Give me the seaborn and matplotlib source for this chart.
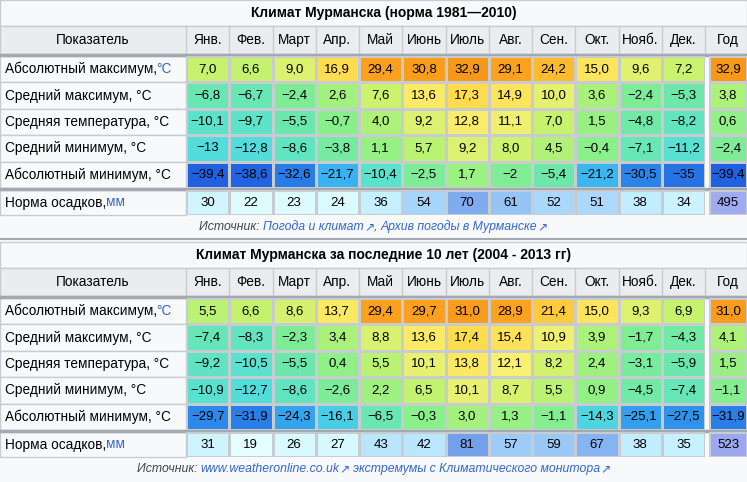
import numpy as np
import matplotlib
matplotlib.use("Agg")
import matplotlib.pyplot as plt
from matplotlib.colors import LinearSegmentedColormap
from matplotlib.patches import Rectangle
import seaborn as sns

months = ["Янв.", "Фев.", "Март", "Апр.", "Май", "Июнь", "Июль", "Авг.", "Сен.", "Окт.", "Нояб.", "Дек."]
row_labels = ["Абсолютный максимум, ", "Средний максимум, °C", "Средняя температура, °C",
              "Средний минимум, °C", "Абсолютный минимум, °C"]

t1_abs_max = ["7,0","6,6","9,0","16,9","29,4","30,8","32,9","29,1","24,2","15,0","9,6","7,2","32,9"]
t1_avg_max = ["−6,8","−6,7","−2,4","2,6","7,6","13,6","17,3","14,9","10,0","3,6","−2,4","−5,3","3,8"]
t1_mean    = ["−10,1","−9,7","−5,5","−0,7","4,0","9,2","12,8","11,1","7,0","1,5","−4,8","−8,2","0,6"]
t1_avg_min = ["−13","−12,8","−8,6","−3,8","1,1","5,7","9,2","8,0","4,5","−0,4","−7,1","−11,2","−2,4"]
t1_abs_min = ["−39,4","−38,6","−32,6","−21,7","−10,4","−2,5","1,7","−2","−5,4","−21,2","−30,5","−35","−39,4"]
t1_precip  = [30, 22, 23, 24, 36, 54, 70, 61, 52, 51, 38, 34, 495]

t2_abs_max = ["5,5","6,6","8,6","13,7","29,4","29,7","31,0","28,9","21,4","15,0","9,3","6,9","31,0"]
t2_avg_max = ["−7,4","−8,3","−2,3","3,4","8,8","13,6","17,4","15,4","10,9","3,9","−1,7","−4,3","4,1"]
t2_mean    = ["−9,2","−10,5","−5,5","0,4","5,5","10,1","13,8","12,1","8,2","2,4","−3,1","−5,9","1,5"]
t2_avg_min = ["−10,9","−12,7","−8,6","−2,6","2,2","6,5","10,1","8,7","5,5","0,9","−4,5","−7,4","−1,1"]
t2_abs_min = ["−29,7","−31,9","−24,3","−16,1","−6,5","−0,3","3,0","1,3","−1,1","−14,3","−25,1","−27,5","−31,9"]
t2_precip  = [31, 19, 26, 27, 43, 42, 81, 57, 59, 67, 38, 35, 523]

title1 = "Климат Мурманска (норма 1981—2010)"
title2 = "Климат Мурманска за последние 10 лет (2004 - 2013 гг)"
ICON = "\u2197"
src1 = [("Источник: ", "#444444"), ("Погода и климат", "#3366cc"), (ICON, "#3366cc"), (", ", "#444444"),
        ("Архив погоды в Мурманске", "#3366cc"), (ICON, "#3366cc")]
src2 = [("Источник: ", "#444444"), ("www.weatheronline.co.uk", "#3366cc"), (ICON, "#3366cc"), (" ", "#444444"),
        ("экстремумы с Климатического монитора", "#3366cc"), (ICON, "#3366cc")]

plt.rcParams["font.family"] = ["Liberation Sans", "DejaVu Sans"]
W, H = 747, 482
fig = plt.figure(figsize=(W / 100, H / 100), dpi=100)
fig.patch.set_facecolor("#f8f9fa")
main = fig.add_axes([0, 0, 1, 1])
main.set_xlim(0, W); main.set_ylim(H, 0); main.axis("off")

tcmap = LinearSegmentedColormap.from_list("t", [
    (0.00, "#1f5fe0"), (10/75, "#2b86ea"), (20/75, "#3cbcf2"), (28/75, "#55e0d8"),
    (35/75, "#6ee8a8"), (40/75, "#8cf088"), (47/75, "#c6f26e"), (52/75, "#f8f070"),
    (57/75, "#ffdc50"), (63/75, "#ffc434"), (68/75, "#ffa520"), (1.0, "#f29214")])
tnorm = (-40, 35)
pcmap = LinearSegmentedColormap.from_list("p", ["#ffffff", "#e6ffff", "#c6f0ff", "#a6d4fb", "#7aa8ee", "#6a98e8"])
ycmap = LinearSegmentedColormap.from_list("y", ["#c8c8ff", "#9aa6ee"])

LBL_R = 186
MX0, MX1 = 186, 705
YX0, YX1 = 709, 747


def parse(s):
    return float(s.replace("−", "-").replace(",", "."))


def ax_at(x0, y0, x1, y1):
    return fig.add_axes([x0 / W, 1 - y1 / H, (x1 - x0) / W, (y1 - y0) / H])


def hm(ax, vals, labels, cmap, vmin, vmax):
    sns.heatmap(vals, ax=ax, cmap=cmap, vmin=vmin, vmax=vmax, annot=labels, fmt="",
                cbar=False, linewidths=1, linecolor="#c8ccd1", xticklabels=False, yticklabels=False,
                annot_kws={"fontsize": 9.5, "color": "black"})
    ax.set_xlabel(""); ax.set_ylabel("")


def draw_table(y0, title, rows, precip, src):
    main.add_patch(Rectangle((0, y0), W, 26, fc="#f8f9fa", ec="#c8ccd1"))
    main.text(W / 2 + 10, y0 + 13, title, ha="center", va="center", fontsize=10, fontweight="bold")
    hy = y0 + 26
    main.add_patch(Rectangle((0, hy), W, 28, fc="#eaecf0", ec="#c8ccd1"))
    main.text(LBL_R / 2, hy + 14, "Показатель", ha="center", va="center", fontsize=9.8)
    cw = (MX1 - MX0) / 12
    for i, m in enumerate(months):
        main.plot([MX0 + i * cw] * 2, [hy, hy + 28], color="#c8ccd1", lw=1)
        main.text(MX0 + (i + 0.5) * cw, hy + 14, m, ha="center", va="center", fontsize=9.8)
    main.plot([MX1, MX1], [hy, hy + 28], color="#c8ccd1", lw=1)
    main.text((YX0 + YX1) / 2, hy + 14, "Год", ha="center", va="center", fontsize=9.8)
    main.plot([0, W], [hy + 29, hy + 29], color="#a2a9b1", lw=2.5)
    ry = hy + 30
    rh = 26.4
    for j, lab in enumerate(row_labels):
        main.add_patch(Rectangle((0, ry + j * rh), LBL_R, rh, fc="#f8f9fa", ec="#c8ccd1"))
        main.text(5, ry + (j + 0.5) * rh, lab, ha="left", va="center", fontsize=9.8)
        if j == 0:
            main.text(5 + 151, ry + (j + 0.5) * rh, "°C", ha="left", va="center", fontsize=9.8, color="#3366cc")
    labels = np.array([r[:12] for r in rows])
    hm(ax_at(MX0, ry, MX1, ry + 5 * rh), np.vectorize(parse)(labels), labels, tcmap, *tnorm)
    ylab = np.array([[r[12]] for r in rows])
    hm(ax_at(YX0, ry, YX1, ry + 5 * rh), np.vectorize(parse)(ylab), ylab, tcmap, *tnorm)
    py = ry + 5 * rh
    main.plot([0, W], [py + 1, py + 1], color="#a2a9b1", lw=2.5)
    py += 2
    ph = 25
    main.add_patch(Rectangle((0, py), LBL_R, ph, fc="#f8f9fa", ec="#c8ccd1"))
    main.text(5, py + ph / 2, "Норма осадков, ", ha="left", va="center", fontsize=9.8)
    main.text(106, py + ph / 2, "мм", ha="left", va="center", fontsize=9.8, color="#3366cc")
    pv = np.array([precip[:12]], dtype=float)
    hm(ax_at(MX0, py, MX1, py + ph), pv, np.array([[str(v) for v in precip[:12]]]), pcmap, 0, 90)
    hm(ax_at(YX0, py, YX1, py + ph), np.array([[precip[12]]], dtype=float),
       np.array([[str(precip[12])]]), ycmap, 300, 530)
    sy = py + ph + 12
    fig.canvas.draw()
    r = fig.canvas.get_renderer()
    widths = []
    for p, c in src:
        tmp = main.text(0, 0, p, fontsize=8.8, style="italic")
        widths.append(tmp.get_window_extent(r).width)
        tmp.remove()
    x = W / 2 - sum(widths) / 2
    for (p, c), w in zip(src, widths):
        main.text(x, sy, p, ha="left", va="center", fontsize=8.8, style="italic", color=c)
        x += w


draw_table(0, title1, [t1_abs_max, t1_avg_max, t1_mean, t1_avg_min, t1_abs_min], t1_precip, src1)
main.plot([0, W], [239, 239], color="#a2a9b1", lw=1.5)
draw_table(242, title2, [t2_abs_max, t2_avg_max, t2_mean, t2_avg_min, t2_abs_min], t2_precip, src2)

fig.savefig("out.png", dpi=100, facecolor=fig.get_facecolor())
